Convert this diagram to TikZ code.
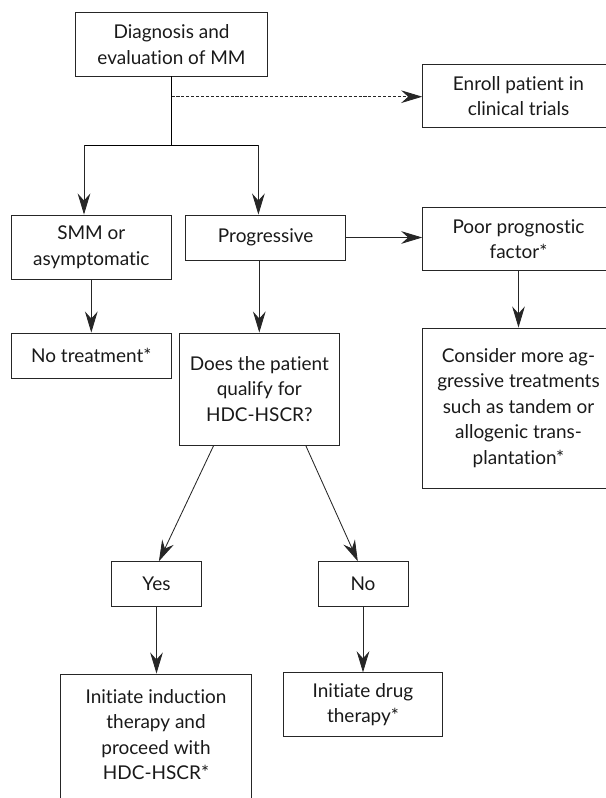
\documentclass[tikz,border=0pt]{standalone}
\usepackage{fontspec}
\setmainfont{Lato}[Ligatures=NoCommon]
\usetikzlibrary{arrows.meta}
\tikzset{
	node_box/.style = {
		rectangle,
		align=center,
		inner sep=0pt,
		draw=black!85,
		text=black!90,
		font=\fontsize{13.5}{18.2}\selectfont,
		minimum width=3.99cm,
		minimum height=1.125cm
	},
	node_wide/.style = {
		node_box,
		minimum width=4.79cm
	},
	node_small/.style = {
		node_box,
		minimum width=2.25cm
	},
	link/.style = {
		draw=black!85,
		-{Stealth[length=15pt,width=9pt,inset=5pt]}
	},
	link_dash/.style = {
		link,
		dash pattern=on 2.2pt off 1.3pt
	},
}

\begin{document}
\begin{tikzpicture}[x=0.025cm, y=-0.025cm, line width=0.6pt]
\useasboundingbox (0,0) rectangle (606,798);
\clip (0,0) rectangle (606,798);
% first row
\node [node_wide, minimum height=1.585cm] (diag) at (171.5,44.3) {Diagnosis and\\evaluation of MM};
\node [node_wide, minimum height=1.585cm] (enroll) at (518.5,96) {Enroll patient in\\clinical trials};
% second row
\node [node_box, minimum height=1.6cm] (smm) at (91.3,247) {SMM or\\asymptomatic};
\node [node_box] (prog) at (265.7,237.5) {Progressive};
\node [node_wide, minimum height=1.585cm] (poor) at (518.5,239) {Poor prognostic\\factor*};
% third row
\node [node_box] (notreat) at (91.3,355.5) {No treatment*};
\node [node_box, minimum height=2.8cm] (qualify) at (259.3,389) {Does the patient\\qualify for\\HDC-HSCR?};
\node [node_wide, minimum height=4cm] (consider) at (518.5,408) {Consider more ag-\\gressive treatments\\such as tandem or\\allogenic trans-\\plantation*};
% answers
\node [node_small] (yes) at (156.5,584.2) {Yes};
\node [node_small] (no) at (363,584.2) {No};
\node [node_wide, minimum height=4.3cm] (induct) at (156,760) {Initiate induction\\therapy and\\proceed with\\HDC-HSCR*\\ \mbox{}\\ \mbox{}};
\node [node_box, minimum height=1.585cm] (drug) at (363,704.5) {Initiate drug\\therapy*};

\coordinate (fork) at (171.5,145);
\coordinate (fork_l) at (84,145);
\coordinate (fork_r) at (258.4,145);
\coordinate (trial) at (171.5,96.7);

\draw (diag) -- (fork);
\draw (fork_l) -- (fork_r);
\draw [link_dash] (trial) -- (trial -| enroll.west);
\draw [link] (fork_l) -- (fork_l |- smm.north);
\draw [link] (fork_r) -- (fork_r |- prog.north);
\draw [link] (prog.east) -- (poor.west |- prog.east);
\draw [link] (smm) -- (notreat);
\draw [link] (qualify.north |- prog.south) -- (qualify.north);
\draw [link] (poor) -- (consider);
\draw [link] ([xshift=-1.14cm]qualify.south) -- ([xshift=0.06cm]yes.north);
\draw [link] ([xshift=1.16cm]qualify.south) -- ([xshift=-0.13cm]no.north);
\draw [link] (yes) -- (yes |- induct.north);
\draw [link] (no) -- (drug);
\end{tikzpicture}
\end{document}
